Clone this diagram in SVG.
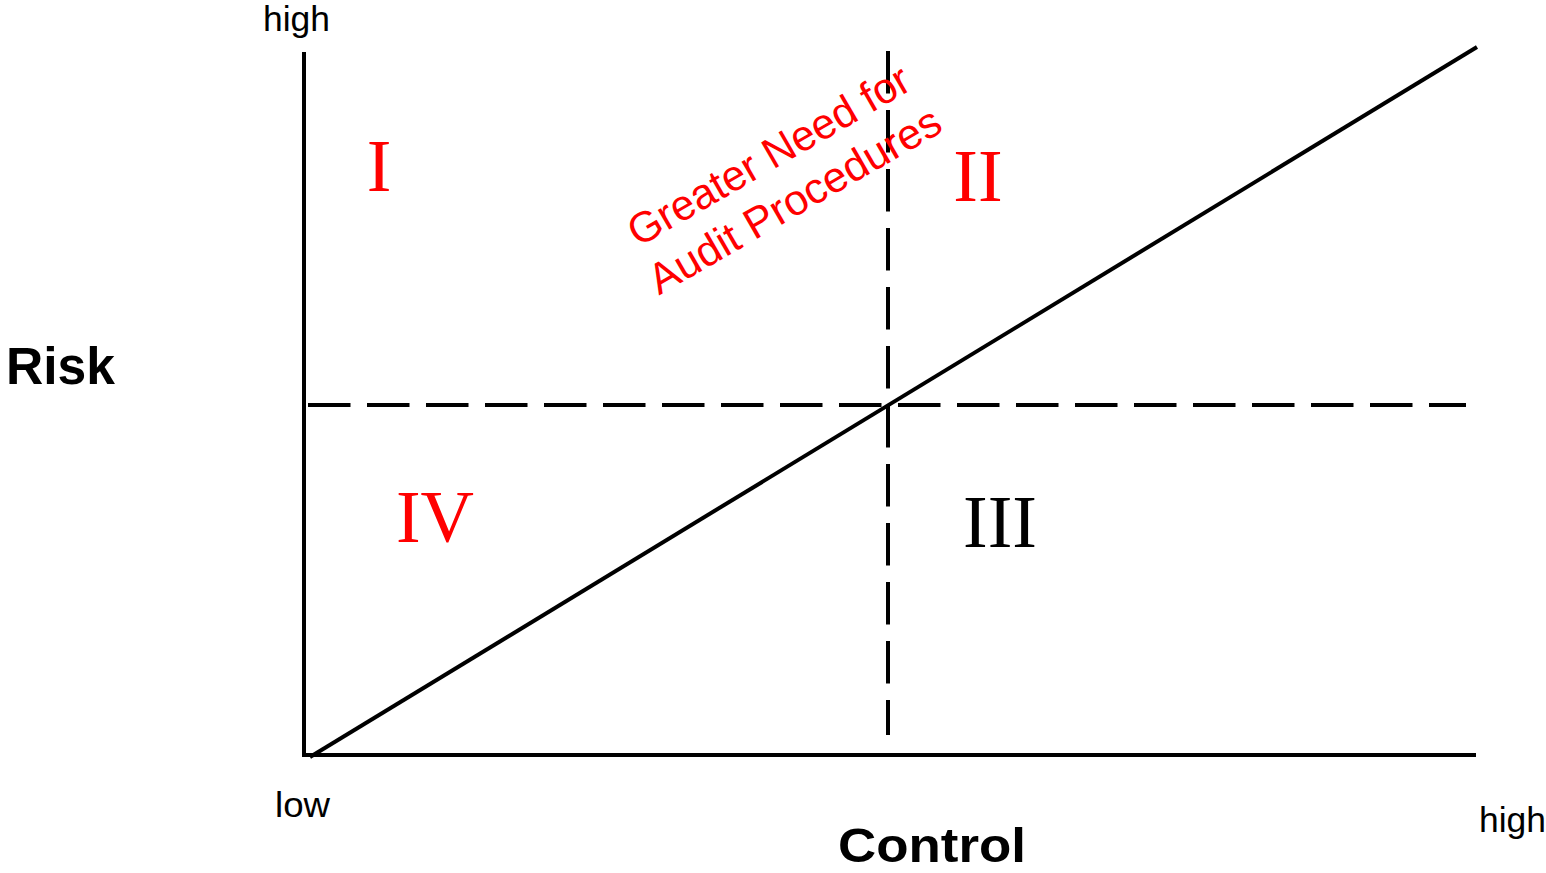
<svg xmlns="http://www.w3.org/2000/svg" width="1546" height="873" viewBox="0 0 1546 873">
<style>
.ax{stroke:#000;stroke-width:4;fill:none}
.dash{stroke:#000;stroke-width:4;fill:none;stroke-dasharray:42.5 16.5}
.lbl{font-family:"Liberation Sans",Arial,sans-serif;font-size:35px;fill:#000}
.title{font-family:"Liberation Sans",Arial,sans-serif;font-size:51px;font-weight:bold;fill:#000}
.roman{font-family:"Liberation Serif","Times New Roman",serif;font-size:74px;text-anchor:middle}
.note{font-family:"Liberation Sans",Arial,sans-serif;font-size:43px;fill:#ff0000;text-anchor:middle}
</style>
<rect width="1546" height="873" fill="#fff"/>
<g id="connectors">
<line class="ax" x1="304" y1="52" x2="304" y2="757"/>
<line class="ax" x1="302" y1="755" x2="1476" y2="755"/>
<line class="ax" x1="310" y1="757" x2="1477" y2="47"/>
<line class="dash" x1="308" y1="405" x2="1466" y2="405"/>
<line class="dash" x1="888" y1="51" x2="888" y2="735"/>
</g>
<g id="axis-labels">
<text class="lbl" x="263" y="31" textLength="67" lengthAdjust="spacingAndGlyphs">high</text>
<text class="lbl" x="275" y="817" textLength="55" lengthAdjust="spacingAndGlyphs">low</text>
<text class="lbl" x="1479" y="832" textLength="67" lengthAdjust="spacingAndGlyphs">high</text>
<text class="title" x="6" y="384" textLength="109" lengthAdjust="spacingAndGlyphs">Risk</text>
<text class="title" x="838" y="862" style="font-size:48px" textLength="188" lengthAdjust="spacingAndGlyphs">Control</text>
</g>
<g id="q1"><text class="roman" x="379" y="191" fill="#ff0000">I</text></g>
<g id="q2"><text class="roman" x="978" y="201" fill="#ff0000">II</text></g>
<g id="q3"><text class="roman" x="1000" y="547" fill="#000">III</text></g>
<g id="q4"><text class="roman" x="435" y="542" fill="#ff0000">IV</text></g>
<g id="note" transform="translate(776,168) rotate(-30)">
<text class="note" x="0" y="0" textLength="318" lengthAdjust="spacingAndGlyphs">Greater Need for</text>
<text class="note" x="0" y="52" textLength="330" lengthAdjust="spacingAndGlyphs">Audit Procedures</text>
</g>
</svg>
